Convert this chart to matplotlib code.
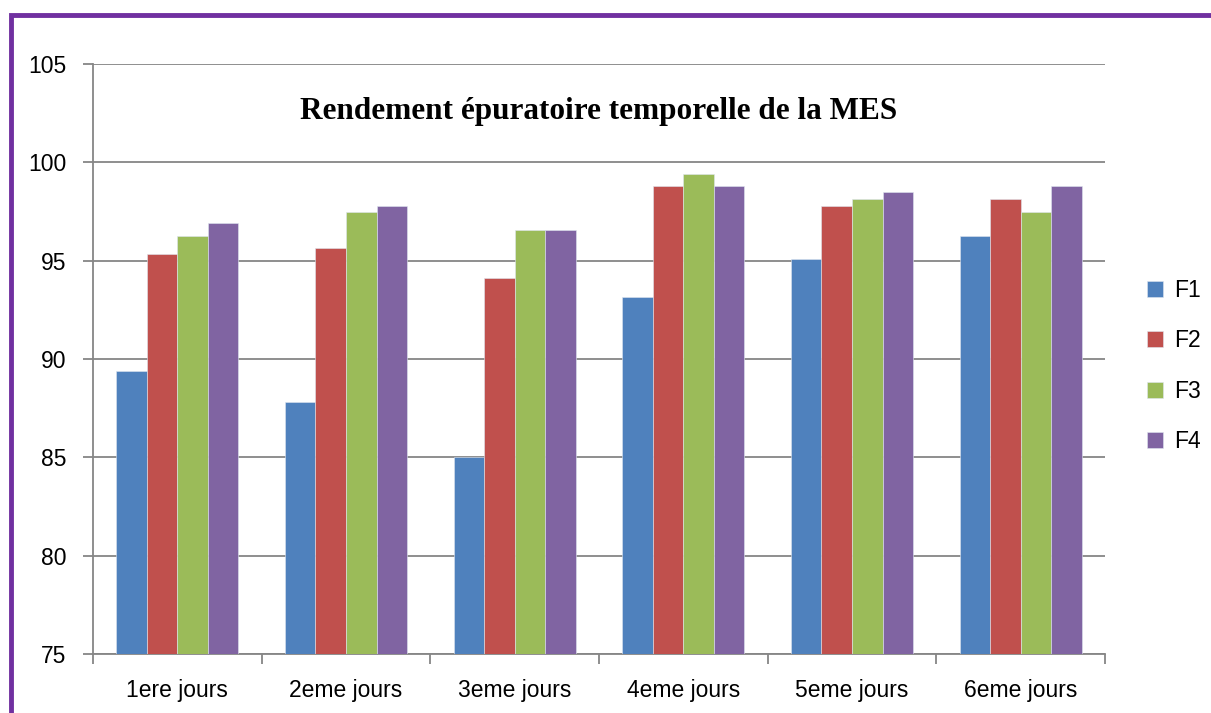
import numpy as np
import matplotlib.pyplot as plt
from matplotlib.patches import Rectangle

days = ['1ere jours', '2eme jours', '3eme jours', '4eme jours', '5eme jours', '6eme jours']
f1 = [89.4, 87.8, 85.0, 93.15, 95.1, 96.25]
f2 = [95.35, 95.65, 94.1, 98.8, 97.8, 98.15]
f3 = [96.25, 97.5, 96.55, 99.4, 98.15, 97.5]
f4 = [96.9, 97.8, 96.55, 98.8, 98.5, 98.8]
series = {'F1': f1, 'F2': f2, 'F3': f3, 'F4': f4}
colors = ['#4F81BD', '#C0504D', '#9BBB59', '#8064A2']

plt.rcParams['font.family'] = ['Liberation Sans', 'DejaVu Sans']

fig = plt.figure(figsize=(12.11, 7.13), dpi=100)
ax = fig.add_axes([0.0768, 0.0827, 0.8357, 0.8275])

# purple frame, clipped on right and bottom like the source
fig.patches.append(Rectangle((11 / 1211, -0.05), 1.2, 1 - 15 / 713 + 0.05,
                             transform=fig.transFigure, fill=False,
                             edgecolor='#7030A0', linewidth=3.5))

x = np.arange(len(days))
w = 0.181
for i, (name, vals) in enumerate(series.items()):
    ax.bar(x + (i - 1.5) * w, np.array(vals) - 75, w, bottom=75,
           color=colors[i], label=name, edgecolor='#dfe6f0', linewidth=0.4, zorder=3)

ax.set_xlim(-0.5, len(days) - 0.5)
ax.set_ylim(75, 105)
ax.set_yticks(range(75, 106, 5))
ax.yaxis.grid(True, color='#868686', linewidth=1.3, zorder=0)
ax.set_xticks(x)
ax.set_xticklabels(days)
ax.set_xticks(np.arange(-0.5, len(days)), minor=True)
ax.tick_params(axis='x', which='major', length=0, labelsize=16.5, pad=18)
ax.tick_params(axis='x', which='minor', length=7, color='#868686', width=1.3)
ax.tick_params(axis='y', length=7, color='#868686', width=1.3, labelsize=16.5, pad=12)
for s in ['top', 'right']:
    ax.spines[s].set_visible(False)
for s in ['left', 'bottom']:
    ax.spines[s].set_color('#868686')
    ax.spines[s].set_linewidth(1.3)

ax.text(0.5, 0.92, 'Rendement épuratoire temporelle de la MES', transform=ax.transAxes,
        ha='center', va='center', fontsize=22.5, fontweight='bold',
        family=['Liberation Serif', 'DejaVu Serif'])

fig.legend(loc='center left', bbox_to_anchor=(1147 / 1211, 1 - 366 / 713),
           frameon=False, fontsize=16.5, handlelength=0.7, handleheight=0.7,
           labelspacing=1.2, handletextpad=0.5, borderpad=0, borderaxespad=0)

fig.savefig('out.png', dpi=100)
